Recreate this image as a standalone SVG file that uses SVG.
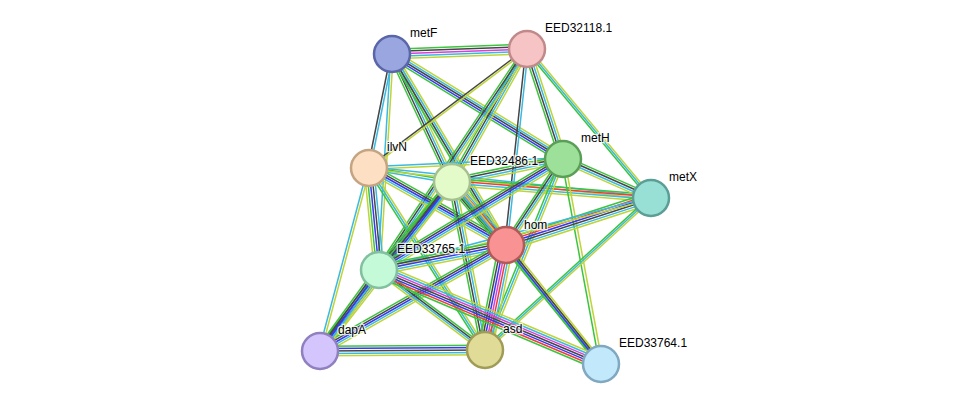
<svg xmlns="http://www.w3.org/2000/svg" xmlns:xlink="http://www.w3.org/1999/xlink" width="975" height="410" viewBox="0 0 975 410">
<style>
.g{stroke:#3dc43d}.k{stroke:#464646}.c{stroke:#3cb9e0}.y{stroke:#bfd43a}.b{stroke:#3838f0}.m{stroke:#d840d8}.r{stroke:#f03c3c}
#edges{stroke-width:1.5;fill:none}
.node circle{stroke-width:2.5}
.lbl{font-family:"Liberation Sans",Arial,sans-serif;font-size:12px;fill:#000;stroke:#fff;stroke-width:2.5;stroke-opacity:0.8;paint-order:stroke}
</style>
<defs>
<line id="e1" x1="392" y1="54" x2="527" y2="49"/>
<line id="e2" x1="392" y1="54" x2="369" y2="168"/>
<line id="e3" x1="392" y1="54" x2="379" y2="270"/>
<line id="e4" x1="392" y1="54" x2="452" y2="182"/>
<line id="e5" x1="392" y1="54" x2="506" y2="245"/>
<line id="e6" x1="392" y1="54" x2="563" y2="159"/>
<line id="e7" x1="527" y1="49" x2="369" y2="168"/>
<line id="e8" x1="527" y1="49" x2="452" y2="182"/>
<line id="e9" x1="527" y1="49" x2="506" y2="245"/>
<line id="e10" x1="527" y1="49" x2="563" y2="159"/>
<line id="e11" x1="527" y1="49" x2="651" y2="198"/>
<line id="e12" x1="527" y1="49" x2="379" y2="270"/>
<line id="e13" x1="369" y1="168" x2="452" y2="182"/>
<line id="e14" x1="369" y1="168" x2="563" y2="159"/>
<line id="e15" x1="369" y1="168" x2="506" y2="245"/>
<line id="e16" x1="369" y1="168" x2="379" y2="270"/>
<line id="e17" x1="369" y1="168" x2="320" y2="351"/>
<line id="e18" x1="369" y1="168" x2="485" y2="350"/>
<line id="e19" x1="452" y1="182" x2="563" y2="159"/>
<line id="e20" x1="452" y1="182" x2="651" y2="198"/>
<line id="e21" x1="452" y1="182" x2="506" y2="245"/>
<line id="e22" x1="452" y1="182" x2="379" y2="270"/>
<line id="e23" x1="452" y1="182" x2="320" y2="351"/>
<line id="e24" x1="452" y1="182" x2="485" y2="350"/>
<line id="e25" x1="452" y1="182" x2="601" y2="364"/>
<line id="e26" x1="563" y1="159" x2="651" y2="198"/>
<line id="e27" x1="563" y1="159" x2="506" y2="245"/>
<line id="e28" x1="563" y1="159" x2="379" y2="270"/>
<line id="e29" x1="563" y1="159" x2="485" y2="350"/>
<line id="e30" x1="563" y1="159" x2="601" y2="364"/>
<line id="e31" x1="651" y1="198" x2="506" y2="245"/>
<line id="e32" x1="651" y1="198" x2="379" y2="270"/>
<line id="e33" x1="651" y1="198" x2="485" y2="350"/>
<line id="e34" x1="506" y1="245" x2="379" y2="270"/>
<line id="e35" x1="506" y1="245" x2="320" y2="351"/>
<line id="e36" x1="506" y1="245" x2="485" y2="350"/>
<line id="e37" x1="506" y1="245" x2="601" y2="364"/>
<line id="e38" x1="379" y1="270" x2="320" y2="351"/>
<line id="e39" x1="379" y1="270" x2="485" y2="350"/>
<line id="e40" x1="379" y1="270" x2="601" y2="364"/>
<line id="e41" x1="320" y1="351" x2="485" y2="350"/>
<line id="e43" x1="369" y1="168" x2="651" y2="198"/>
</defs>
<g id="edges">
<use href="#e1" class="g" y="-4.8"/><use href="#e1" class="k" y="-2.4"/><use href="#e1" class="m" y="0"/><use href="#e1" class="c" y="2.4"/><use href="#e1" class="y" y="4.8"/>
<use href="#e2" class="k" x="-1.2"/><use href="#e2" class="c" x="1.2"/>
<use href="#e3" class="c" x="-1.2"/><use href="#e3" class="y" x="1.2"/>
<use href="#e4" class="g" x="-3.6"/><use href="#e4" class="k" x="-1.2"/><use href="#e4" class="c" x="1.2"/><use href="#e4" class="y" x="3.6"/>
<use href="#e5" class="g" x="-3.6"/><use href="#e5" class="k" x="-1.2"/><use href="#e5" class="c" x="1.2"/><use href="#e5" class="y" x="3.6"/>
<use href="#e6" class="y" y="-4.8"/><use href="#e6" class="c" y="-2.4"/><use href="#e6" class="k" y="0"/><use href="#e6" class="b" y="2.4"/><use href="#e6" class="g" y="4.8"/>
<use href="#e7" class="k" y="-1.2"/><use href="#e7" class="y" y="1.2"/>
<use href="#e8" class="g" x="-3.6"/><use href="#e8" class="k" x="-1.2"/><use href="#e8" class="c" x="1.2"/><use href="#e8" class="y" x="3.6"/>
<use href="#e9" class="k" x="-1.2"/><use href="#e9" class="c" x="1.2"/>
<use href="#e10" class="g" x="-3.6"/><use href="#e10" class="k" x="-1.2"/><use href="#e10" class="c" x="1.2"/><use href="#e10" class="y" x="3.6"/>
<use href="#e11" class="g" x="-2.4"/><use href="#e11" class="c" x="0"/><use href="#e11" class="y" x="2.4"/>
<use href="#e12" class="g" x="-3.6"/><use href="#e12" class="k" x="-1.2"/><use href="#e12" class="c" x="1.2"/><use href="#e12" class="y" x="3.6"/>
<use href="#e13" class="g" y="-1.2"/><use href="#e13" class="c" y="1.2"/>
<use href="#e14" class="c" y="-1.2"/><use href="#e14" class="y" y="1.2"/>
<use href="#e43" class="c" y="-1.2"/><use href="#e43" class="y" y="1.2"/>
<use href="#e15" class="g" y="-4.8"/><use href="#e15" class="k" y="-2.4"/><use href="#e15" class="b" y="0"/><use href="#e15" class="c" y="2.4"/><use href="#e15" class="y" y="4.8"/>
<use href="#e16" class="y" x="-4.8"/><use href="#e16" class="g" x="-2.4"/><use href="#e16" class="b" x="0"/><use href="#e16" class="k" x="2.4"/><use href="#e16" class="c" x="4.8"/>
<use href="#e17" class="c" x="-1.2"/><use href="#e17" class="y" x="1.2"/>
<use href="#e18" class="g" x="-2.4"/><use href="#e18" class="c" x="0"/><use href="#e18" class="y" x="2.4"/>
<use href="#e19" class="g" y="-3.6"/><use href="#e19" class="k" y="-1.2"/><use href="#e19" class="c" y="1.2"/><use href="#e19" class="y" y="3.6"/>
<use href="#e20" class="g" y="-3.6"/><use href="#e20" class="r" y="-1.2"/><use href="#e20" class="c" y="1.2"/><use href="#e20" class="y" y="3.6"/>
<use href="#e21" class="g" x="-7.2"/><use href="#e21" class="k" x="-4.8"/><use href="#e21" class="b" x="-2.4"/><use href="#e21" class="m" x="0"/><use href="#e21" class="r" x="2.4"/><use href="#e21" class="c" x="4.8"/><use href="#e21" class="y" x="7.2"/>
<use href="#e22" class="g" x="-4.8"/><use href="#e22" class="k" x="-2.4"/><use href="#e22" class="b" x="0"/><use href="#e22" class="c" x="2.4"/><use href="#e22" class="y" x="4.8"/>
<use href="#e23" class="g" x="-4.8"/><use href="#e23" class="k" x="-2.4"/><use href="#e23" class="b" x="0"/><use href="#e23" class="c" x="2.4"/><use href="#e23" class="y" x="4.8"/>
<use href="#e24" class="g" x="-3.6"/><use href="#e24" class="k" x="-1.2"/><use href="#e24" class="c" x="1.2"/><use href="#e24" class="y" x="3.6"/>
<use href="#e25" class="g" x="-2.4"/><use href="#e25" class="c" x="0"/><use href="#e25" class="y" x="2.4"/>
<use href="#e26" class="g" y="-3.6"/><use href="#e26" class="k" y="-1.2"/><use href="#e26" class="c" y="1.2"/><use href="#e26" class="y" y="3.6"/>
<use href="#e27" class="g" x="-3.6"/><use href="#e27" class="k" x="-1.2"/><use href="#e27" class="c" x="1.2"/><use href="#e27" class="y" x="3.6"/>
<use href="#e28" class="g" y="-4.8"/><use href="#e28" class="k" y="-2.4"/><use href="#e28" class="b" y="0"/><use href="#e28" class="c" y="2.4"/><use href="#e28" class="y" y="4.8"/>
<use href="#e29" class="g" x="-2.4"/><use href="#e29" class="c" x="0"/><use href="#e29" class="y" x="2.4"/>
<use href="#e30" class="g" x="-1.5"/><use href="#e30" class="y" x="1.5"/>
<use href="#e31" class="g" y="-6"/><use href="#e31" class="r" y="-3.6"/><use href="#e31" class="b" y="-1.2"/><use href="#e31" class="k" y="1.2"/><use href="#e31" class="c" y="3.6"/><use href="#e31" class="y" y="6"/>
<use href="#e32" class="c" y="-1.2"/><use href="#e32" class="y" y="1.2"/>
<use href="#e33" class="g" y="-2.4"/><use href="#e33" class="c" y="0"/><use href="#e33" class="y" y="2.4"/>
<use href="#e34" class="g" y="-4.8"/><use href="#e34" class="k" y="-2.4"/><use href="#e34" class="b" y="0"/><use href="#e34" class="c" y="2.4"/><use href="#e34" class="y" y="4.8"/>
<use href="#e35" class="g" y="-4.8"/><use href="#e35" class="k" y="-2.4"/><use href="#e35" class="b" y="0"/><use href="#e35" class="c" y="2.4"/><use href="#e35" class="y" y="4.8"/>
<use href="#e36" class="g" x="-7.2"/><use href="#e36" class="k" x="-4.8"/><use href="#e36" class="b" x="-2.4"/><use href="#e36" class="m" x="0"/><use href="#e36" class="r" x="2.4"/><use href="#e36" class="c" x="4.8"/><use href="#e36" class="y" x="7.2"/>
<use href="#e37" class="g" x="-3.6"/><use href="#e37" class="b" x="-1.2"/><use href="#e37" class="k" x="1.2"/><use href="#e37" class="y" x="3.6"/>
<use href="#e38" class="g" x="-4.8"/><use href="#e38" class="k" x="-2.4"/><use href="#e38" class="b" x="0"/><use href="#e38" class="c" x="2.4"/><use href="#e38" class="y" x="4.8"/>
<use href="#e39" class="g" y="-3.6"/><use href="#e39" class="k" y="-1.2"/><use href="#e39" class="c" y="1.2"/><use href="#e39" class="y" y="3.6"/>
<use href="#e40" class="y" y="-7.2"/><use href="#e40" class="c" y="-4.8"/><use href="#e40" class="m" y="-2.4"/><use href="#e40" class="k" y="0"/><use href="#e40" class="b" y="2.4"/><use href="#e40" class="r" y="4.8"/><use href="#e40" class="g" y="7.2"/>
<use href="#e41" class="g" y="-4.8"/><use href="#e41" class="b" y="-2.4"/><use href="#e41" class="k" y="0"/><use href="#e41" class="c" y="2.4"/><use href="#e41" class="y" y="4.8"/>
</g>
<g id="metF" class="node"><circle cx="392" cy="54" r="18" fill="#9aa6e0" stroke="#5a66a8"/><text class="lbl" x="410" y="37">metF</text></g>
<g id="EED32118.1" class="node"><circle cx="527" cy="49" r="18" fill="#f6c4c4" stroke="#c08a8a"/><text class="lbl" x="545" y="32">EED32118.1</text></g>
<g id="ilvN" class="node"><circle cx="369" cy="168" r="18" fill="#fde0c4" stroke="#c4a482"/><text class="lbl" x="387" y="151">ilvN</text></g>
<g id="EED32486.1" class="node"><circle cx="452" cy="182" r="18" fill="#e2fbc8" stroke="#a6c090"/><text class="lbl" x="470" y="165">EED32486.1</text></g>
<g id="metH" class="node"><circle cx="563" cy="159" r="18" fill="#9de09a" stroke="#5a9e58"/><text class="lbl" x="581" y="142">metH</text></g>
<g id="metX" class="node"><circle cx="651" cy="198" r="18" fill="#98e0d6" stroke="#5a9e96"/><text class="lbl" x="669" y="181">metX</text></g>
<g id="hom" class="node"><circle cx="506" cy="245" r="18" fill="#f99292" stroke="#b05a5a"/><text class="lbl" x="524" y="229">hom</text></g>
<g id="EED33765.1" class="node"><circle cx="379" cy="270" r="18" fill="#c4fad8" stroke="#82c0a0"/><text class="lbl" x="397" y="253">EED33765.1</text></g>
<g id="dapA" class="node"><circle cx="320" cy="351" r="18" fill="#d4c6fc" stroke="#9080c0"/><text class="lbl" x="338" y="334">dapA</text></g>
<g id="asd" class="node"><circle cx="485" cy="350" r="18" fill="#e0dc98" stroke="#a09c58"/><text class="lbl" x="503" y="333">asd</text></g>
<g id="EED33764.1" class="node"><circle cx="601" cy="364" r="18" fill="#c2e8fb" stroke="#80a8c0"/><text class="lbl" x="619" y="347">EED33764.1</text></g>
</svg>
